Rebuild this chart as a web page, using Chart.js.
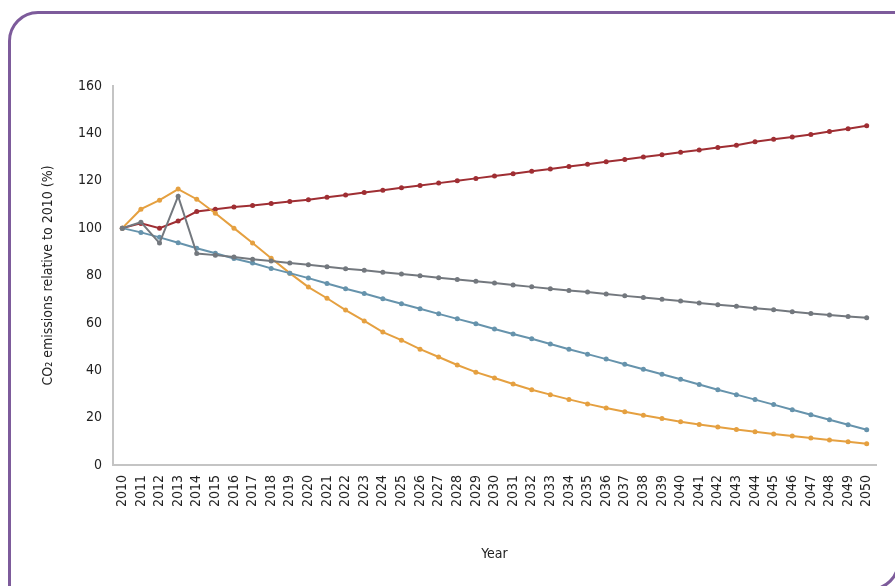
<!DOCTYPE html>
<html>
<head>
<meta charset="utf-8">
<title>CO2 emissions relative to 2010</title>
<script src="https://cdn.jsdelivr.net/npm/chart.js@4.4.1/dist/chart.umd.min.js"></script>
<style>
    html, body { margin: 0; padding: 0; background: #ffffff; }
    #wrap { position: relative; width: 895px; height: 586px; overflow: hidden; }
    #chart { position: absolute; left: 0; top: 0; }
    /* moldura roxa com cantos arredondados */
    #frame {
        position: absolute; left: 8px; top: 11px; width: 892px; height: 580px;
        box-sizing: border-box; border: 3px solid #7d5b9b;
        border-radius: 30px 0 30px 0; pointer-events: none;
    }
</style>
</head>
<body>
<div id="wrap">
    <canvas id="chart" width="895" height="586"></canvas>
    <div id="frame"></div>
</div>
<script>
// Dados
const years = [];
for (let y = 2010; y <= 2050; y++) years.push(String(y));

const redSeries = [100, 102, 100, 103, 107, 108, 108.9, 109.6, 110.4, 111.2, 112,
    113, 114, 115, 116, 117, 118, 119, 120, 121, 122,
    123, 124, 125, 126, 127, 128, 129, 130, 131, 132,
    133, 134, 135, 136.5, 137.5, 138.5, 139.5, 140.8, 142, 143.2];

const orangeSeries = [100, 108, 111.8, 116.5, 112.2, 106.3, 100, 93.7, 87.3, 81, 75.1,
    70.4, 65.4, 60.8, 56.1, 52.7, 48.9, 45.6, 42.2, 39.2, 36.7,
    34.2, 31.8, 29.7, 27.7, 25.8, 24.1, 22.5, 21, 19.6, 18.3,
    17.1, 16, 15, 14, 13.1, 12.2, 11.4, 10.6, 9.8, 9];

const graySeries = [100, 102.5, 93.7, 113.5, 89.3, 88.6, 87.8, 86.9, 86.1, 85.3, 84.5,
    83.7, 82.9, 82.2, 81.4, 80.6, 79.9, 79.1, 78.3, 77.6, 76.8,
    76, 75.2, 74.4, 73.7, 73, 72.2, 71.4, 70.7, 70, 69.2,
    68.4, 67.7, 67, 66.2, 65.5, 64.7, 64, 63.3, 62.7, 62.2];

const blueSeries = [100, 98.2, 96.1, 93.8, 91.5, 89.4, 87.2, 85.3, 83, 81, 78.9,
    76.6, 74.4, 72.4, 70.2, 68.1, 66, 63.8, 61.7, 59.6, 57.4,
    55.3, 53.3, 51.1, 48.9, 46.8, 44.7, 42.5, 40.4, 38.3, 36.2,
    34, 31.8, 29.7, 27.6, 25.5, 23.3, 21.2, 19.1, 17, 14.9];

const yTicks = [0, 20, 40, 60, 80, 100, 120, 140, 160];

const FONT = "'DejaVu Sans Condensed', 'Liberation Sans Narrow', 'DejaVu Sans', sans-serif";

document.addEventListener('DOMContentLoaded', function() {
    const ctx = document.getElementById('chart').getContext('2d');

    function serie(data, color) {
        return {
            data: data,
            borderColor: color,
            backgroundColor: color,
            borderWidth: 2,
            pointRadius: 2.5,
            pointBorderWidth: 0,
            tension: 0
        };
    }

    new Chart(ctx, {
        type: 'line',
        data: {
            labels: years,
            datasets: [
                serie(graySeries, '#73787e'),
                serie(blueSeries, '#6693ac'),
                serie(orangeSeries, '#e5a040'),
                serie(redSeries, '#9f2e33')
            ]
        },
        options: {
            responsive: false,
            animation: false,
            layout: { padding: { left: 36, top: 86, right: 19, bottom: 19 } },
            plugins: {
                legend: { display: false },
                tooltip: { enabled: false }
            },
            scales: {
                x: {
                    offset: true,
                    grid: { display: false, drawTicks: false },
                    border: { display: true, color: '#c4c4c4', width: 2 },
                    ticks: {
                        autoSkip: false, minRotation: 90, maxRotation: 90,
                        padding: 10, color: '#222222',
                        font: { family: FONT, size: 14 }
                    },
                    title: {
                        display: true, text: 'Year', color: '#222222',
                        font: { family: FONT, size: 14 }
                    },
                    afterFit: function(scale) { scale.height = 102; }
                },
                y: {
                    min: 0, max: 160,
                    grid: { display: false, drawTicks: false },
                    border: { display: true, color: '#c4c4c4', width: 2 },
                    afterBuildTicks: function(scale) {
                        scale.ticks = yTicks.map(v => ({ value: v }));
                    },
                    ticks: {
                        padding: 11, color: '#222222',
                        font: { family: FONT, size: 14 }
                    },
                    title: {
                        display: true, text: 'CO\u2082 emissions relative to 2010 (%)',
                        color: '#222222',
                        font: { family: FONT, size: 14 }
                    },
                    afterFit: function(scale) { scale.width = 113 - 36; }
                }
            }
        }
    });
});
</script>
</body>
</html>
